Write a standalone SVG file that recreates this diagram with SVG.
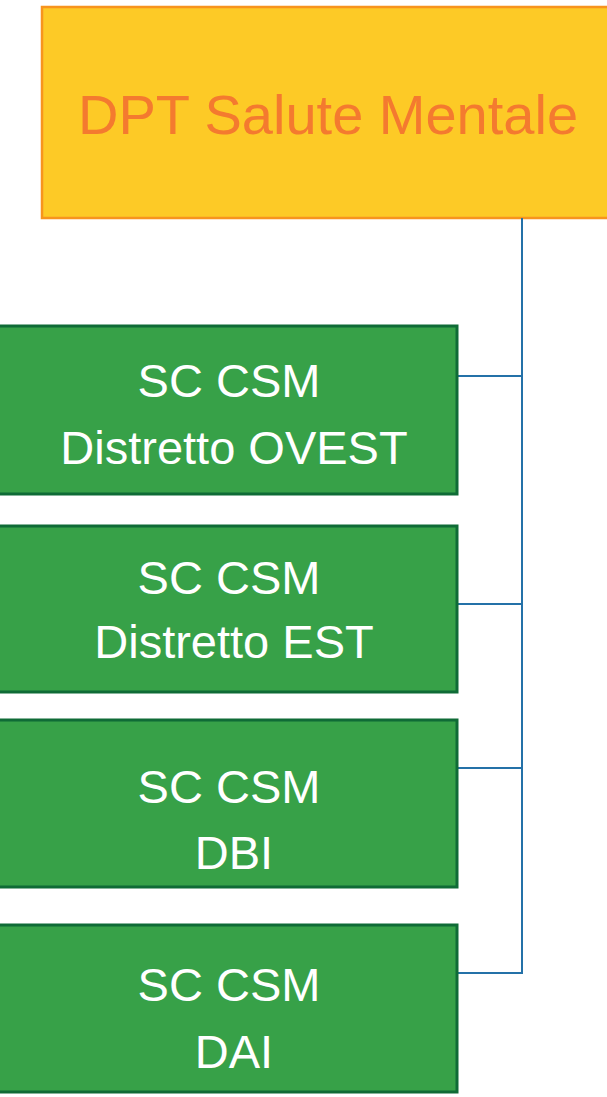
<svg xmlns="http://www.w3.org/2000/svg" width="607" height="1097" viewBox="0 0 607 1097">
<style>
.g{fill:#37A148;stroke:#0F6B36;stroke-width:3}
.gt{fill:#ffffff;font-family:"Liberation Sans",Arial,sans-serif;font-size:47px;text-anchor:middle}
.c{stroke:#2471A8;stroke-width:2;fill:none}
</style>
<rect width="607" height="1097" fill="#ffffff"/>
<g id="dpt">
<rect x="42" y="7" width="580" height="211" fill="#FDCA26" stroke="#F7941E" stroke-width="2.5"/>
<text x="328" y="134" fill="#F47A2F" font-family="Liberation Sans,Arial,sans-serif" font-size="56" text-anchor="middle">DPT Salute Mentale</text>
</g>
<g id="connectors">
<path class="c" d="M522 218 V974 M457 376 H522 M457 604 H522 M457 768 H522 M457 973 H522"/>
</g>
<g id="ovest">
<rect class="g" x="-2" y="326" width="459" height="168"/>
<text class="gt" x="229" y="397">SC CSM</text>
<text class="gt" x="234" y="464">Distretto OVEST</text>
</g>
<g id="est">
<rect class="g" x="-2" y="526" width="459" height="166"/>
<text class="gt" x="229" y="594">SC CSM</text>
<text class="gt" x="234" y="658">Distretto EST</text>
</g>
<g id="dbi">
<rect class="g" x="-2" y="720" width="459" height="167"/>
<text class="gt" x="229" y="803">SC CSM</text>
<text class="gt" x="234" y="869">DBI</text>
</g>
<g id="dai">
<rect class="g" x="-2" y="925" width="459" height="167"/>
<text class="gt" x="229" y="1001">SC CSM</text>
<text class="gt" x="234" y="1068">DAI</text>
</g>
</svg>
